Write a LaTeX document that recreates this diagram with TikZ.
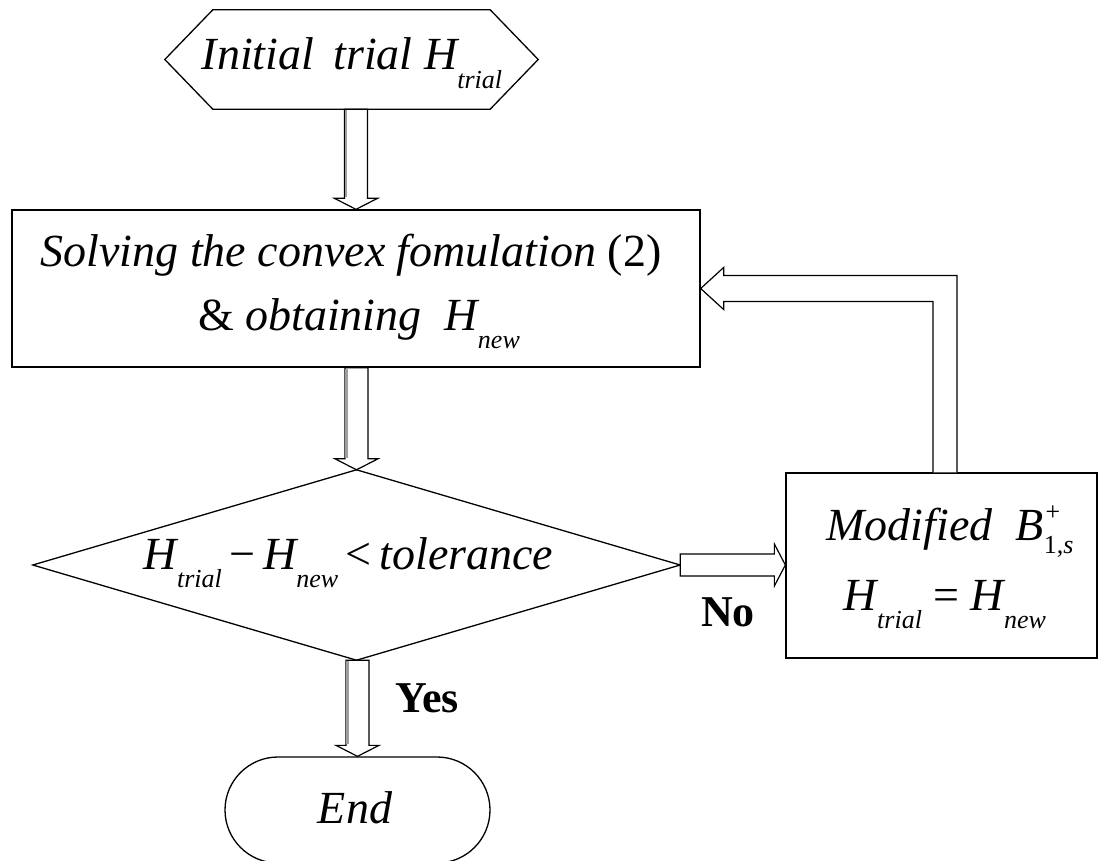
\documentclass[tikz,border=0pt]{standalone}
\usepackage{fontspec}
\setmainfont{Liberation Serif}
\usetikzlibrary{calc,shapes.misc}
\newcommand{\sbx}[1]{\raisebox{-0.4em}{\fontsize{26}{26}\selectfont\itshape #1}}
\newcommand{\spx}[1]{\raisebox{0.42em}{\fontsize{26}{26}\selectfont #1}}
\newcommand{\hollowdown}[2]{%
  \draw[hollow] ($(#2 |- #1)+(-11.5,0)$) -- ($(#2)+(-11.5,-11)$) -- ($(#2)+(-21.5,-11)$) -- (#2)
    -- ($(#2)+(21.5,-11)$) -- ($(#2)+(11.5,-11)$) -- ($(#2 |- #1)+(11.5,0)$) -- cycle;
  \draw[shadeline] ($(#2 |- #1)+(-10,1)$) -- ($(#2)+(-10,-12)$);}
\tikzset{
  lbl/.style={font=\fontsize{46}{64}\selectfont\itshape, inner sep=0pt},
  ans/.style={font=\fontsize{44}{44}\selectfont\bfseries, inner sep=0pt},
  outline/.style={draw=black, line width=1.3pt, line join=miter},
  hollow/.style={draw=black, line width=1.2pt, fill=white, line join=miter},
  shadeline/.style={draw=gray!75, line width=2.6pt},
}
\begin{document}
\begin{tikzpicture}[x=1pt,y=-1pt]
\useasboundingbox (0,0) rectangle (1100,861);

% start (hexagon)
\node[inner sep=0pt, minimum width=373, minimum height=99] (start) at (351.5,59.5) {};
\draw[outline] (start.west) -- ($(start.north west)+(48,0)$) -- ($(start.north east)+(-48,0)$)
  -- (start.east) -- ($(start.south east)+(-48,0)$) -- ($(start.south west)+(48,0)$) -- cycle;
\node[lbl, anchor=base] (starttxt) at (352,70) {Initial\, trial H\sbx{trial}};

% solve box
\node[outline, rectangle, minimum width=688, minimum height=157, inner sep=0pt] (solve) at (356,288.5) {};
\node[lbl, anchor=base] (solve1) at (351,266) {Solving the convex fomulation \textup{(2)}};
\node[lbl, anchor=base] (solve2) at (359,330) {\textup{\&} obtaining\ \ H\sbx{new}};

% decision diamond
\node[inner sep=0pt, minimum width=647, minimum height=190] (test) at (356.5,565) {};
\draw[outline] (test.west) -- (test.north) -- (test.east) -- (test.south) -- cycle;
\node[lbl, anchor=base] (testtxt) at (348.5,569)
  {H\sbx{trial}\,\textup{−}\,H\sbx{new}\,\textup{<}\,tolerance};

% modify box
\node[outline, rectangle, minimum width=311, minimum height=185, inner sep=0pt] (mod) at (941.5,565.5) {};
\node[lbl, anchor=base] (mod1) at (950,540)
  {Modified\ \ B\rlap{\spx{+}}\raisebox{-0.3em}{\fontsize{26}{26}\selectfont\upshape 1,\itshape s}};
\node[lbl, anchor=base] (mod2) at (945,610) {H\sbx{trial}\ \textup{=}\ H\sbx{new}};

% end
\node[outline, rounded rectangle, minimum width=265, minimum height=106, inner sep=0pt] (end) at (357.5,810) {};
\node[lbl, anchor=base] (endtxt) at (355,823) {End};

% vertical hollow arrows
\hollowdown{start.south}{solve.north}
\hollowdown{solve.south}{test.north}
\hollowdown{test.south}{end.north}

% No arrow
\coordinate (notip) at (mod.west |- test.east);
\draw[hollow] ($(test.east)+(0,-11)$) -- ($(notip)+(-11,-11)$) -- ($(notip)+(-11,-21)$) -- (notip)
  -- ($(notip)+(-11,21)$) -- ($(notip)+(-11,11)$) -- ($(test.east)+(0,11)$) -- cycle;

% feedback arrow
\coordinate (fbstart) at ($(mod.north)+(3.5,0)$);
\coordinate (fbcorner) at (fbstart |- solve.east);
\draw[hollow] ($(fbstart)+(-12,0)$) -- ($(fbcorner)+(-12,13)$) -- ($(solve.east)+(23,13)$)
  -- ($(solve.east)+(23,21)$) -- (solve.east) -- ($(solve.east)+(23,-21)$)
  -- ($(solve.east)+(23,-13)$) -- ($(fbcorner)+(12,-13)$) -- ($(fbstart)+(12,0)$);

% labels
\node[ans] (nolbl) at (728,612) {No};
\node[ans] (yeslbl) at (427,698) {Yes};
\end{tikzpicture}
\end{document}
